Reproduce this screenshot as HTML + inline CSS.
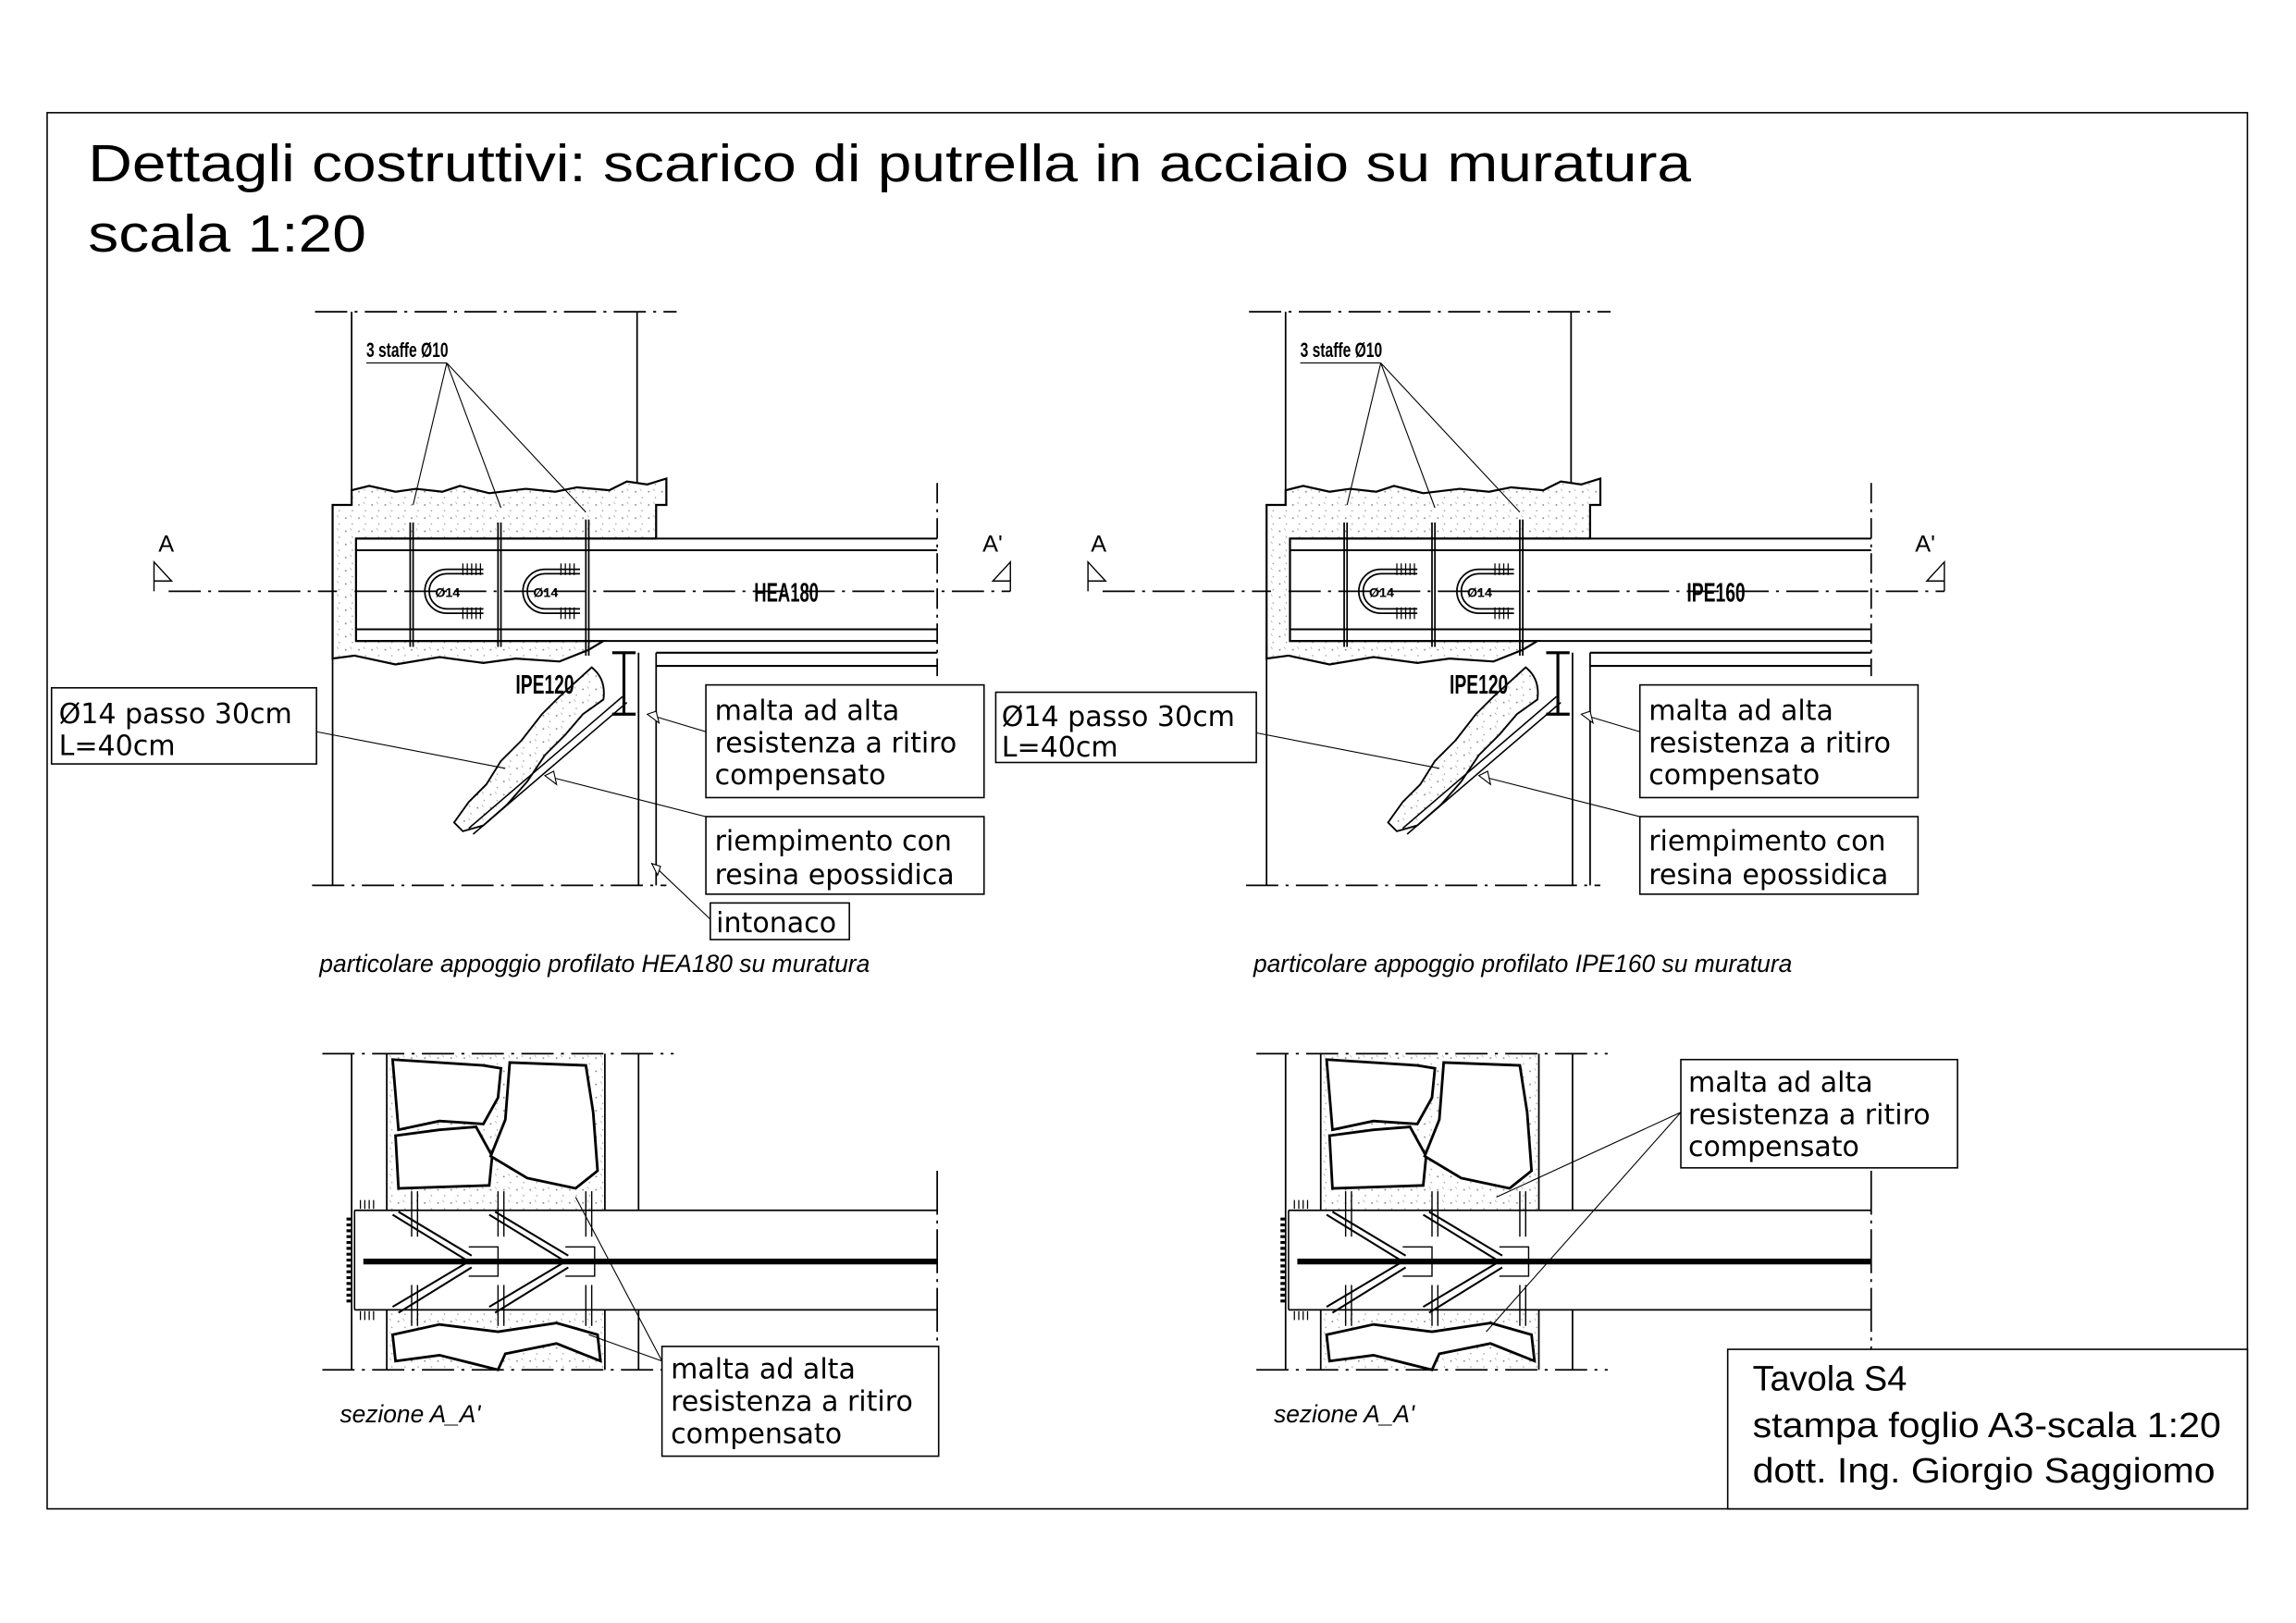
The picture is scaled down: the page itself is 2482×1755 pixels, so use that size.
<!DOCTYPE html>
<html><head><meta charset="utf-8"><style>html,body{margin:0;padding:0;background:#fff}svg{display:block}</style></head><body>
<svg width="2482" height="1755" viewBox="0 0 1568 1109" xmlns="http://www.w3.org/2000/svg" font-family="'Liberation Sans', sans-serif">
<defs>
<pattern id="dots" width="9" height="9" patternUnits="userSpaceOnUse">
<circle cx="2" cy="3" r="0.6" fill="#888"/><circle cx="6.5" cy="7" r="0.5" fill="#999"/><path d="M5 1 l1 1.5" stroke="#999" stroke-width="0.4"/>
</pattern>
<g id="upper" fill="none" stroke="#000" stroke-width="1.1">
<path d="M215 213 H462" stroke-dasharray="22 5 2 5"/>
<path d="M240 213 V335 M435 213 V330"/>
<path d="M240 335 l12 -3 l18 4 l14 -2 l18 2 l12 -4 l20 5 l25 -3 l20 2 l15 -3 l22 2 l12 -6 l14 2 l13 -4 V345 H448 V368 H243 V438 H412 l-10 6 l-20 8 l-30 -2 l-22 3 l-30 -4 l-30 5 l-28 -6 l-15 2 V345 H240 Z" fill="url(#dots)" stroke-width="1.4"/>
<path d="M243 368 H640 M243 376 H640 M243 430 H640 M243 438 H640 M448 446 H640 M448 455 H640" stroke-width="1.3"/>
<path d="M243 368 V438"/>
<path d="M640 330 V462" stroke-dasharray="14 4 2 4"/>
<path d="M227 440 V605 M436 446 V605 M448 446 V605"/>
<path d="M213 605 H455" stroke-dasharray="22 5 2 5"/>
<path d="M280 357 V442 M282 357 V442 M340 357 V442 M342 357 V442 M400 355 V448 M402 355 V448"/>
<path d="M330 389 H305 a15 15 0 0 0 0 30 H330 M330 392 H305 a12 12 0 0 0 0 24 H330"/>
<path d="M396 389 H372 a15 15 0 0 0 0 30 H396 M396 392 H372 a12 12 0 0 0 0 24 H396"/>
<path d="M316 385 v8 M319 385 v8 M322 385 v8 M325 385 v8 M328 385 v8 M316 415 v8 M319 415 v8 M322 415 v8 M325 415 v8 M328 415 v8 M383 385 v8 M386 385 v8 M389 385 v8 M392 385 v8 M383 415 v8 M386 415 v8 M389 415 v8 M392 415 v8" stroke-width="0.8"/>
<path d="M305 248 L282 345 M305 248 L342 347 M305 248 L400 350" stroke-width="0.7"/>
<path d="M250 248 H305" stroke-width="0.7"/>
<path d="M418 446 H434 M418 488 H434 M426 446 V488" stroke-width="2"/>
<path d="M404 456 q10 8 8 22 l-14 10 l-12 14 l-14 14 l-12 18 l-14 16 l-16 14 l-14 4 l-6 -6 l10 -14 l12 -12 l10 -16 l14 -14 l14 -18 l12 -12 Z" fill="url(#dots)" stroke-width="1.2"/>
<path d="M425 476 L320 566 M428 480 L323 570" stroke-width="1"/>
<path d="M216 500 L345 525 M482 500 L442 488 M482 558 L372 530" stroke-width="0.7"/>
<path d="M442 488 l8 6 l-2 -8 Z M372 530 l8 6 l-2 -9 Z" stroke-width="0.7" fill="#fff"/>
<path d="M115 404 H230 M242 404 H690" stroke-dasharray="22 5 2 5"/>
<path d="M105 384 L117 397 H105 Z M105 397 V404 M690 384 L678 397 H690 Z M690 397 V404" stroke-width="0.9"/>
</g>
<g id="lower" fill="none" stroke="#000" stroke-width="1.1">
<path d="M220 720 H460" stroke-dasharray="22 5 2 5"/>
<path d="M220 936 H460" stroke-dasharray="22 5 2 5"/>
<path d="M240 720 V936 M436 720 V827 M436 895 V936"/>
<path d="M264 720 V827 M413 720 V827 M264 895 V936 M413 895 V936" />
<rect x="264" y="720" width="149" height="107" fill="url(#dots)" stroke="none"/>
<rect x="264" y="895" width="149" height="41" fill="url(#dots)" stroke="none"/>
<path d="M268 724 L330 728 L342 730 L340 750 L330 768 L300 766 L272 772 Z" fill="#fff" stroke-width="1.8"/>
<path d="M270 776 L300 772 L325 770 L336 790 L334 810 L272 812 Z" fill="#fff" stroke-width="1.8"/>
<path d="M348 726 L400 728 L405 760 L408 800 L393 812 L360 805 L335 790 L345 765 Z" fill="#fff" stroke-width="1.8"/>
<path d="M268 912 L300 905 L340 910 L380 904 L408 912 L410 930 L380 918 L345 925 L340 936 L300 926 L270 930 Z" fill="#fff" stroke-width="1.8"/>
<path d="M242 827 H640 M242 895 H640"/>
<path d="M640 800 V925" stroke-dasharray="30 4 2 4"/>
<path d="M248 862 H640" stroke-width="4"/>
<path d="M242 827 V895" stroke-width="1"/>
<path d="M238 832 V890" stroke-dasharray="2 2" stroke-width="3"/>
<path d="M246 820 v6 M249 820 v6 M252 820 v6 M255 820 v6 M246 896 v6 M249 896 v6 M252 896 v6 M255 896 v6" stroke-width="0.8"/>
<path d="M268 830 L320 862 L268 893 M272 828 L322 858 M272 897 L322 866" stroke-width="1.3"/>
<path d="M334 830 L386 862 L334 893 M338 828 L388 858 M338 897 L388 866" stroke-width="1.3"/>
<path d="M320 852 H340 V872 H320 M386 852 H406 V872 H386" stroke-width="0.9"/>
<path d="M281 814 V845 M285 814 V845 M281 878 V906 M285 878 V906 M340 814 V845 M344 814 V845 M340 878 V906 M344 878 V906 M400 814 V845 M404 814 V845 M400 878 V906 M404 878 V906" stroke-width="0.9"/>
</g>
</defs>
<rect x="32" y="77" width="1503" height="954" fill="none" stroke="#000" stroke-width="1"/>
<text x="60" y="124" font-size="36" textLength="1095" lengthAdjust="spacingAndGlyphs">Dettagli costruttivi: scarico di putrella in acciaio su muratura</text>
<text x="60" y="172" font-size="36" textLength="190" lengthAdjust="spacingAndGlyphs">scala 1:20</text>
<use href="#upper"/>
<use href="#upper" transform="translate(638,0)"/>
<use href="#lower"/>
<use href="#lower" transform="translate(638,0)"/>
<g fill="none" stroke="#000" stroke-width="0.7">
<path d="M487 630 L445 590"/><path d="M445 590 l4 8 l2 -6 Z" fill="#fff"/>
<path d="M452 930 L393 818 M452 930 L402 912"/>
<path d="M1148 760 L1022 818 M1148 760 L1015 910"/>
</g>
<g font-weight="bold" font-size="14">
<text x="250" y="244" textLength="56" lengthAdjust="spacingAndGlyphs">3 staffe Ø10</text>
<text x="888" y="244" textLength="56" lengthAdjust="spacingAndGlyphs">3 staffe Ø10</text>
<text x="297" y="408" font-size="9">Ø14</text><text x="364" y="408" font-size="9">Ø14</text>
<text x="935" y="408" font-size="9">Ø14</text><text x="1002" y="408" font-size="9">Ø14</text>
</g>
<g font-size="18" font-weight="bold">
<text x="515" y="411" textLength="44" lengthAdjust="spacingAndGlyphs">HEA180</text>
<text x="1152" y="411" textLength="40" lengthAdjust="spacingAndGlyphs">IPE160</text>
<text x="352" y="474" textLength="40" lengthAdjust="spacingAndGlyphs">IPE120</text>
<text x="990" y="474" textLength="40" lengthAdjust="spacingAndGlyphs">IPE120</text>
</g>
<g font-size="16"><text x="108" y="377">A</text><text x="671" y="377">A'</text><text x="745" y="377">A</text><text x="1308" y="377">A'</text></g>
<g fill="#fff" stroke="#000" stroke-width="1">
<rect x="35" y="470" width="181" height="52"/><rect x="680" y="473" width="178" height="48"/>
<rect x="482" y="468" width="190" height="77"/><rect x="1120" y="468" width="190" height="77"/>
<rect x="482" y="558" width="190" height="53"/><rect x="1120" y="558" width="190" height="53"/>
<rect x="485" y="617" width="95" height="25"/>
<rect x="452" y="920" width="189" height="75"/><rect x="1148" y="724" width="189" height="74"/>
<rect x="1180" y="922" width="355" height="109"/>
</g>
<g font-family="'DejaVu Sans', sans-serif" font-size="19">
<text x="40" y="494">Ø14 passo 30cm</text><text x="40" y="516">L=40cm</text>
<text x="684" y="496">Ø14 passo 30cm</text><text x="684" y="517">L=40cm</text>
<text x="488" y="492">malta ad alta</text><text x="488" y="514">resistenza a ritiro</text><text x="488" y="536">compensato</text>
<text x="1126" y="492">malta ad alta</text><text x="1126" y="514">resistenza a ritiro</text><text x="1126" y="536">compensato</text>
<text x="488" y="581">riempimento con</text><text x="488" y="604">resina epossidica</text>
<text x="1126" y="581">riempimento con</text><text x="1126" y="604">resina epossidica</text>
<text x="489" y="637">intonaco</text>
<text x="458" y="942">malta ad alta</text><text x="458" y="964">resistenza a ritiro</text><text x="458" y="986">compensato</text>
<text x="1153" y="746">malta ad alta</text><text x="1153" y="768">resistenza a ritiro</text><text x="1153" y="790">compensato</text>
</g>
<g font-style="italic" font-size="17">
<text x="218" y="664" textLength="376" lengthAdjust="spacingAndGlyphs">particolare appoggio profilato HEA180 su muratura</text>
<text x="856" y="664" textLength="368" lengthAdjust="spacingAndGlyphs">particolare appoggio profilato IPE160 su muratura</text>
<text x="232" y="972" textLength="96" lengthAdjust="spacingAndGlyphs">sezione A_A'</text>
<text x="870" y="972" textLength="96" lengthAdjust="spacingAndGlyphs">sezione A_A'</text>
</g>
<g font-size="24">
<text x="1197" y="950">Tavola S4</text>
<text x="1197" y="982" textLength="320" lengthAdjust="spacingAndGlyphs">stampa foglio A3-scala 1:20</text>
<text x="1197" y="1013" textLength="316" lengthAdjust="spacingAndGlyphs">dott. Ing. Giorgio Saggiomo</text>
</g>
</svg>
</body></html>
